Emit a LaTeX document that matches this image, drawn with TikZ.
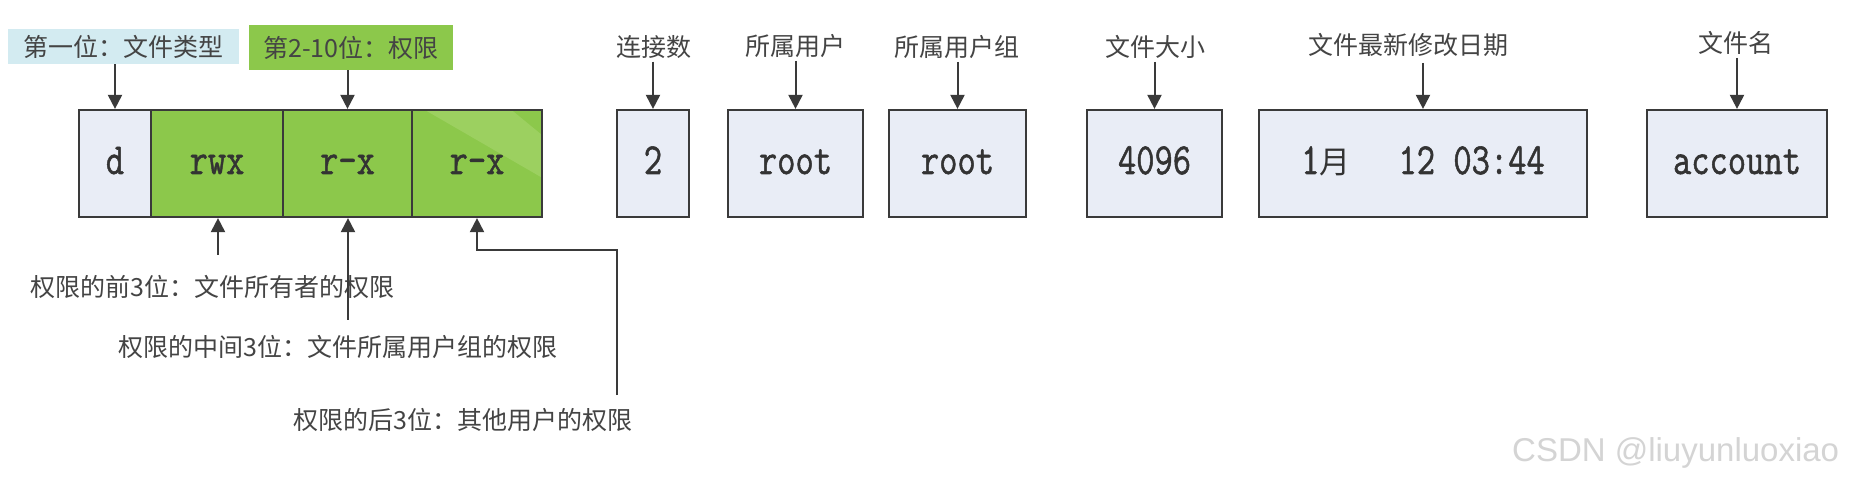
\documentclass[tikz,border=0pt]{standalone}
\usepackage{fontspec}
\usepackage{graphicx}
\newfontfamily\cjk{Noto Sans CJK SC}
\newfontfamily\boxfont{Latin Modern Mono}[FakeBold=1.3]
\newfontfamily\boxcjk{Noto Sans CJK SC}
\setsansfont{Liberation Sans}
\usetikzlibrary{arrows.meta}
\definecolor{boxfill}{HTML}{E9EDF6}
\definecolor{gfill}{HTML}{8CC84B}
\definecolor{gband}{HTML}{9CD060}
\definecolor{bfill}{HTML}{D3EBF1}
\definecolor{edge}{HTML}{3A3A3A}
\definecolor{txt}{HTML}{333333}
\definecolor{labtxt}{HTML}{444444}
\definecolor{wm}{HTML}{D4D4D4}
\newcommand\tallt[1]{\scalebox{1}[1.25]{#1}}
\begin{document}
\begin{tikzpicture}[x=1pt,y=-1pt,
  cell/.style={draw=edge, line width=2.2pt, minimum height=107pt, inner sep=0pt,
    text height=25pt, text depth=4pt, font=\boxfont\fontsize{35.5}{35.5}\selectfont, text=txt},
  plain/.style={cell, fill=boxfill},
  perm/.style={cell, fill=gfill},
  lab/.style={font=\cjk\fontsize{25}{25}\selectfont, text=labtxt, inner sep=0pt},
  arr/.style={draw=edge, line width=2pt, -{Triangle[width=14pt,length=14pt]}},
]
\useasboundingbox (0,0) rectangle (1856,486);
\fill[white] (0,0) rectangle (1856,486);

% main cells
\node[plain, minimum width=72pt]  (d)   at (115,163.5)   {\tallt{d}};
\node[perm,  minimum width=132pt] (rwx) at (217,163.5)   {\tallt{rwx}};
\node[perm,  minimum width=129pt] (rx1) at (347.5,163.5) {\tallt{r-x}};
\node[perm,  minimum width=130pt] (rx2) at (477,163.5)   {\tallt{r-x}};
\fill[gband] (427,111.2) -- (513,111.2) -- (540.8,134) -- (540.8,177) -- cycle;
\node[plain, minimum width=72pt]  (n2)   at (653,163.5)   {\tallt{2}};
\node[plain, minimum width=135pt] (usr)  at (795.5,163.5) {\tallt{root}};
\node[plain, minimum width=137pt] (grp)  at (957.5,163.5) {\tallt{root}};
\node[plain, minimum width=135pt] (size) at (1154.5,163.5) {\tallt{4096}};
\node[plain, minimum width=328pt] (date) at (1423,163.5)  {\tallt{1}{\boxcjk\fontsize{31}{31}\selectfont 月}\hspace{48pt}\tallt{12 03:44}};
\node[plain, minimum width=180pt] (name) at (1737,163.5)  {\tallt{account}};

% top labels
\node[lab, fill=bfill, minimum width=231pt, minimum height=35pt] (t1) at (123.5,46.5) {第一位：文件类型};
\node[lab, fill=gfill, minimum width=204pt, minimum height=45pt] (t2) at (351,47.5) {第2-10位：权限};
\node[lab] (lnk)  at (654,47)  {连接数};
\node[lab] (lusr) at (795,46)  {所属用户};
\node[lab] (lgrp) at (957,47)  {所属用户组};
\node[lab] (lsz)  at (1155,47) {文件大小};
\node[lab] (ldt)  at (1408,45) {文件最新修改日期};
\node[lab] (lnm)  at (1736,43) {文件名};

\draw[arr] (t1.south -| d.north) -- (d.north);
\draw[arr] (t2.south -| rx1.north) -- (rx1.north);
\draw[arr] ([yshift=-3pt]lnk.south -| n2.north) -- (n2.north);
\draw[arr] ([yshift=-3pt]lusr.south -| usr.north) -- (usr.north);
\draw[arr] ([yshift=-3pt]lgrp.south -| grp.north) -- (grp.north);
\draw[arr] ([yshift=-3pt]lsz.south -| size.north) -- (size.north);
\draw[arr] ([yshift=-6pt]ldt.south -| date.north) -- (date.north);
\draw[arr] ([yshift=-3pt]lnm.south -| name.north) -- (name.north);

% bottom labels
\node[lab, anchor=west] (b1) at (30,287)  {权限的前3位：文件所有者的权限};
\node[lab, anchor=west] (b2) at (118,347) {权限的中间3位：文件所属用户组的权限};
\node[lab, anchor=west] (b3) at (293,420) {权限的后3位：其他用户的权限};

\coordinate (s1) at (218,255);
\coordinate (s2) at (348,320);
\coordinate (s3) at (617,395);
\coordinate (k3) at (617,250);
\draw[arr] (s1) -- (s1 |- rwx.south);
\draw[arr] (s2) -- (s2 |- rx1.south);
\draw[arr] (s3) -- (k3) -| (rx2.south);

% watermark
\node[font=\sffamily\fontsize{33}{33}\selectfont, text=wm, anchor=west, inner sep=0pt] (wmk) at (1512,453) {CSDN @liuyunluoxiao};
\end{tikzpicture}
\end{document}
